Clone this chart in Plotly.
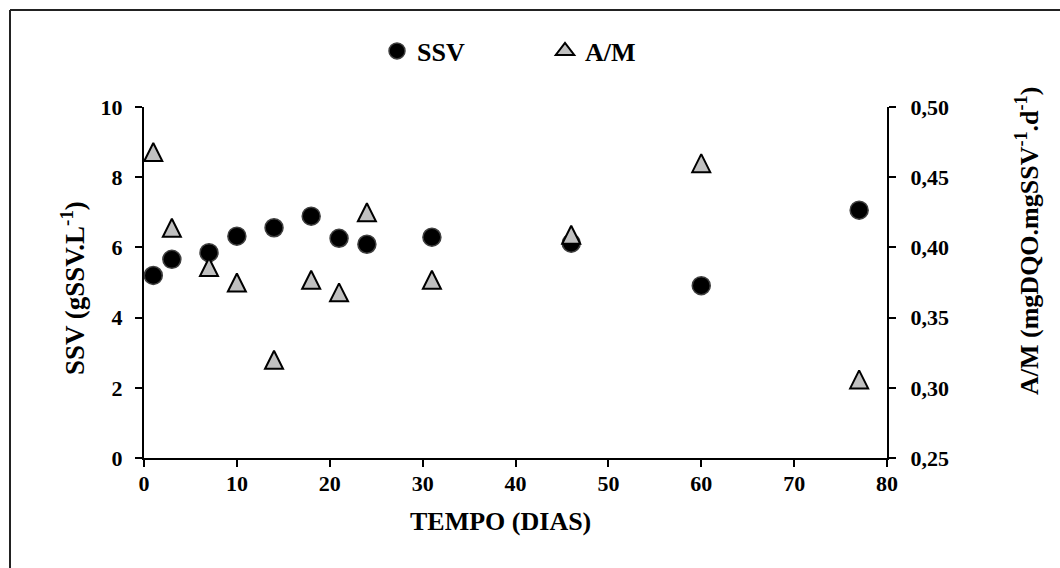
import plotly.graph_objects as go

# ---- data ----
dias = [1, 3, 7, 10, 14, 18, 21, 24, 31, 46, 60, 77]
ssv = [5.20, 5.66, 5.85, 6.32, 6.56, 6.89, 6.26, 6.09, 6.29, 6.12, 4.91, 7.06]
am = [0.468, 0.414, 0.386, 0.375, 0.320, 0.377, 0.368, 0.425, 0.377, 0.409, 0.460, 0.306]

x_ticks = [0, 10, 20, 30, 40, 50, 60, 70, 80]
y1_ticks = [0, 2, 4, 6, 8, 10]
y2_ticks = [0.25, 0.30, 0.35, 0.40, 0.45, 0.50]

FONT = "Liberation Serif"
W, H = 1060, 568
L, R, T, B = 144, 173, 107, 110
PW, PH = W - L - R, H - T - B


def px(xp):
    return (xp - L) / PW


def py(yp):
    return (H - B - yp) / PH


fig = go.Figure()
fig.add_trace(go.Scatter(
    x=dias, y=ssv, name="SSV", mode="markers",
    marker=dict(symbol="circle", size=18, color="black",
                line=dict(color="#404040", width=1.5)),
    yaxis="y",
))
# A/M points (equilateral triangle centred on the value)
fig.add_trace(go.Scatter(
    x=dias, y=am, name="A/M", mode="markers", legendgroup="am", showlegend=False,
    marker=dict(symbol="arrow-down", angle=180, size=18, standoff=9, color="#c0c0c0",
                line=dict(color="black", width=2)),
    yaxis="y2",
))
# legend entry for A/M
fig.add_trace(go.Scatter(
    x=[None], y=[None], name="A/M", mode="markers", legendgroup="am",
    marker=dict(symbol="triangle-up", size=18, color="#c0c0c0",
                line=dict(color="black", width=2)),
    yaxis="y2",
))

axis_common = dict(
    showline=True, linecolor="black", linewidth=2,
    ticks="outside", ticklen=7, tickwidth=2, tickcolor="black",
    showgrid=False, zeroline=False,
    tickfont=dict(family=FONT, size=22, color="black", weight="bold"),
)

fig.update_layout(
    width=W, height=H,
    margin=dict(l=L, r=R, t=T, b=B, pad=0),
    paper_bgcolor="white", plot_bgcolor="white",
    separators=",.",
    font=dict(family=FONT, size=22, color="black", weight="bold"),
    xaxis=dict(range=[0, 80], tickvals=x_ticks, ticklabelstandoff=-2, **axis_common),
    yaxis=dict(range=[0, 10], tickvals=y1_ticks, ticklabelstandoff=8, **axis_common),
    yaxis2=dict(range=[0.25, 0.50], tickvals=y2_ticks, tickformat=".2f",
                overlaying="y", side="right", ticklabelstandoff=10, **axis_common),
    showlegend=True,
    legend=dict(
        orientation="h", x=px(377), y=py(51), xanchor="left", yanchor="middle",
        font=dict(family=FONT, size=26, color="black", weight="bold"),
        entrywidth=123, bgcolor="rgba(0,0,0,0)", borderwidth=0,
    ),
    annotations=[
        dict(text="TEMPO (DIAS)", x=px(500), y=py(521), xref="paper", yref="paper",
             showarrow=False, xanchor="center", yanchor="middle",
             font=dict(family=FONT, size=26, color="black", weight="bold")),
        dict(text="SSV (gSSV.L<sup>-1</sup>)", x=px(73), y=py(288), xref="paper", yref="paper",
             showarrow=False, textangle=-90, xanchor="center", yanchor="middle",
             font=dict(family=FONT, size=27, color="black", weight="bold")),
        dict(text="A/M (mgDQO.mgSSV<sup>-1</sup>.d<sup>-1</sup>)", x=px(1027), y=py(241),
             xref="paper", yref="paper",
             showarrow=False, textangle=-90, xanchor="center", yanchor="middle",
             font=dict(family=FONT, size=26, color="black", weight="bold")),
    ],
    shapes=[
        dict(type="line", xref="paper", yref="paper", x0=px(10), x1=px(1062),
             y0=py(10), y1=py(10), line=dict(color="#222222", width=2)),
        dict(type="line", xref="paper", yref="paper", x0=px(10), x1=px(10),
             y0=py(10), y1=py(570), line=dict(color="#222222", width=2)),
    ],
)

fig.write_html("out.html")
